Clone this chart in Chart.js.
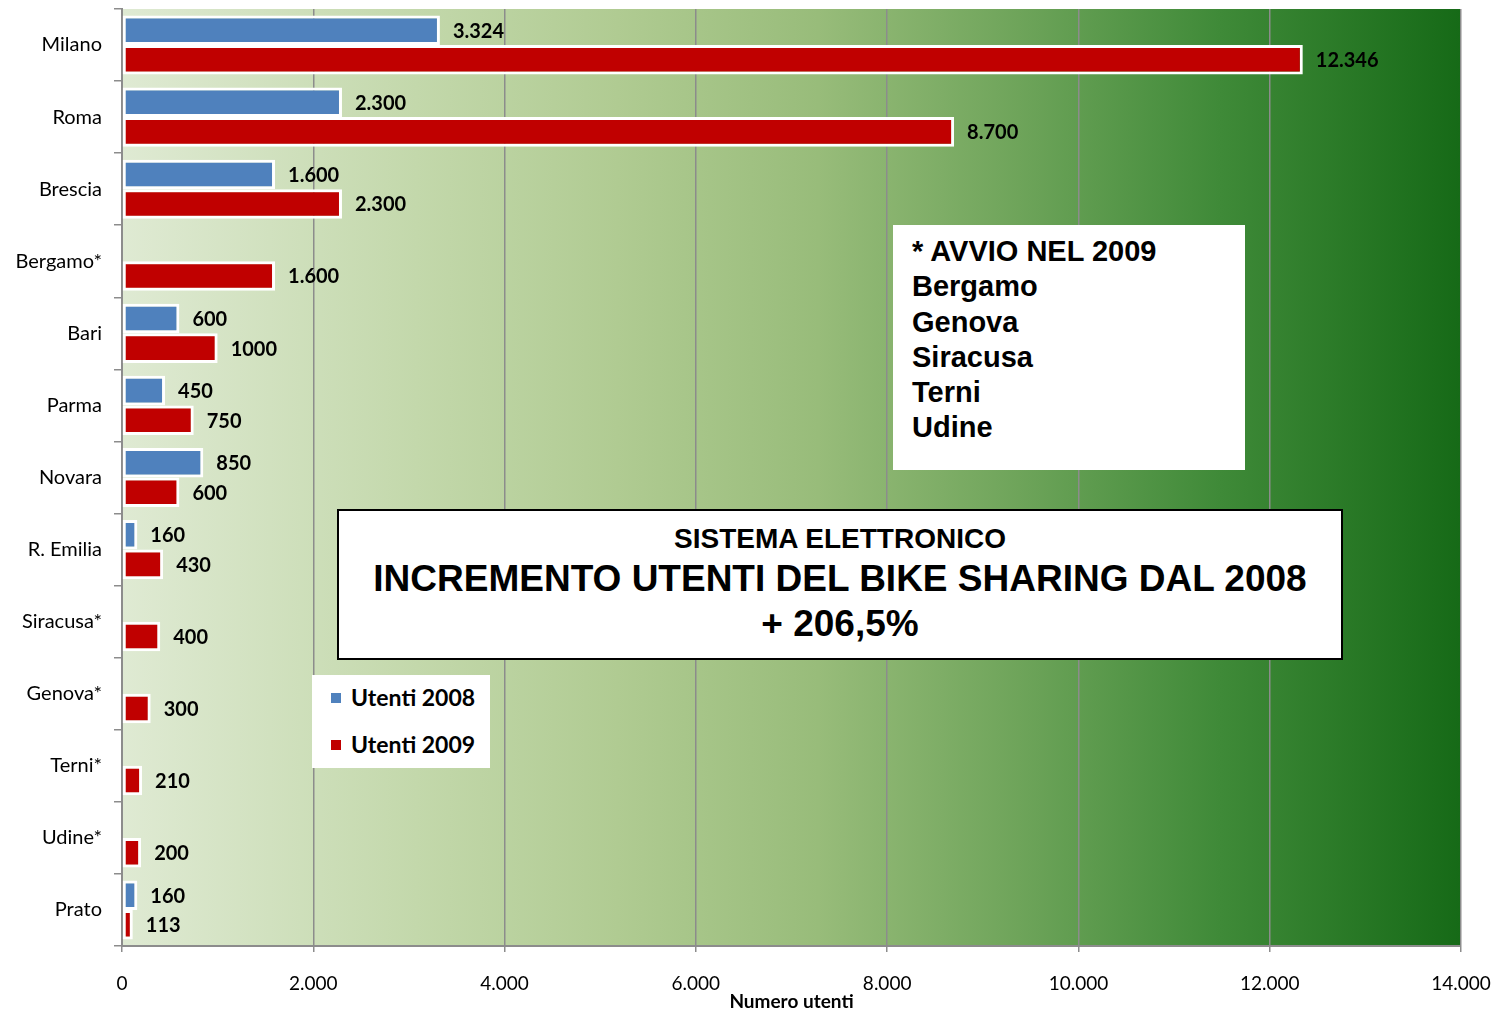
<!DOCTYPE html>
<html>
<head>
<meta charset="utf-8">
<script src="https://cdn.jsdelivr.net/npm/chart.js@4"></script>
<style>
  html, body { margin: 0; padding: 0; background: #fff; overflow: hidden; }
  #wrap { position: relative; width: 1492px; height: 1011px; }
  #chart { display: block; }
  .box { position: absolute; background: #fff; font-family: "Liberation Sans", Arial, sans-serif; font-weight: bold; color: #000; }
  #note { left: 893px; top: 225px; width: 352px; height: 245px; font-size: 29px; line-height: 35.3px; padding: 9px 0 0 19px; box-sizing: border-box; }
  #title { left: 337px; top: 509px; width: 1006px; height: 151px; border: 2px solid #000; box-sizing: border-box; text-align: center; }
  #title .l1 { font-size: 28px; margin-top: 11px; line-height: 34px; }
  #title .l2 { font-size: 37px; line-height: 45px; }
  #legend { left: 312px; top: 675px; width: 178px; height: 93px; font-family: Lato, "Open Sans", sans-serif; font-size: 23px; }
  #legend div { position: absolute; left: 19px; }
  #legend span { display: inline-block; width: 10px; height: 10px; margin-right: 10px; vertical-align: 3px; }
</style>
</head>
<body>
<div id="wrap">
  <canvas id="chart" width="1492" height="1011"></canvas>
  <div class="box" id="note">* AVVIO NEL 2009<br>Bergamo<br>Genova<br>Siracusa<br>Terni<br>Udine</div>
  <div class="box" id="title">
    <div class="l1">SISTEMA ELETTRONICO</div>
    <div class="l2">INCREMENTO UTENTI DEL BIKE SHARING DAL 2008</div>
    <div class="l2">+ 206,5%</div>
  </div>
  <div class="box" id="legend">
    <div style="top:8px"><span style="background:#4f81bd"></span>Utenti 2008</div>
    <div style="top:55px"><span style="background:#c00000"></span>Utenti 2009</div>
  </div>
</div>
<script>
const cities = ["Milano", "Roma", "Brescia", "Bergamo*", "Bari", "Parma", "Novara", "R. Emilia", "Siracusa*", "Genova*", "Terni*", "Udine*", "Prato"];
const users2008 = [3324, 2300, 1600, null, 600, 450, 850, 160, null, null, null, null, 160];
const users2009 = [12346, 8700, 2300, 1600, 1000, 750, 600, 430, 400, 300, 210, 200, 113];
const labels2008 = ["3.324", "2.300", "1.600", "", "600", "450", "850", "160", "", "", "", "", "160"];
const labels2009 = ["12.346", "8.700", "2.300", "1.600", "1000", "750", "600", "430", "400", "300", "210", "200", "113"];
const xTicks = ["0", "2.000", "4.000", "6.000", "8.000", "10.000", "12.000", "14.000"];

const bgPlugin = {
  id: "bgGradient",
  beforeDraw(chart) {
    const { ctx, chartArea: a } = chart;
    const g = ctx.createLinearGradient(a.left, 0, a.right, 0);
    g.addColorStop(0, "#dfead3");
    g.addColorStop(0.22, "#c3d8ab");
    g.addColorStop(0.37, "#b0cb92");
    g.addColorStop(0.52, "#98bc7a");
    g.addColorStop(0.67, "#6ea45a");
    g.addColorStop(0.82, "#3f8a38");
    g.addColorStop(1, "#166a17");
    ctx.save();
    ctx.fillStyle = g;
    ctx.fillRect(a.left, a.top, a.right - a.left, a.bottom - a.top);
    ctx.restore();
  }
};

const labelPlugin = {
  id: "barLabels",
  afterDatasetsDraw(chart) {
    const ctx = chart.ctx;
    const texts = [labels2008, labels2009];
    ctx.save();
    ctx.font = "bold 20px Lato, 'Open Sans', sans-serif";
    ctx.fillStyle = "#000";
    ctx.textBaseline = "middle";
    chart.data.datasets.forEach((ds, i) => {
      chart.getDatasetMeta(i).data.forEach((bar, j) => {
        if (ds.data[j] == null) return;
        ctx.fillText(texts[i][j], bar.x + 13, bar.y + 1);
      });
    });
    ctx.restore();
  }
};

new Chart(document.getElementById("chart"), {
  type: "bar",
  data: {
    labels: cities,
    datasets: [
      {
        label: "Utenti 2008",
        data: users2008,
        backgroundColor: "#4f81bd",
        borderColor: "#ffffff",
        borderWidth: 3,
        borderSkipped: false,
      },
      {
        label: "Utenti 2009",
        data: users2009,
        backgroundColor: "#c00000",
        borderColor: "#ffffff",
        borderWidth: 3,
        borderSkipped: false,
      },
    ],
  },
  options: {
    indexAxis: "y",
    responsive: false,
    animation: false,
    layout: { padding: { top: 9, right: 31 } },
    datasets: { bar: { categoryPercentage: 0.82, barPercentage: 1 } },
    scales: {
      x: {
        min: 0,
        max: 14000,
        ticks: {
          stepSize: 2000,
          color: "#000",
          padding: 20,
          font: { family: "Lato, 'Open Sans', sans-serif", size: 19 },
          callback: (v, i) => xTicks[i],
        },
        grid: { color: "#8c8c8c", lineWidth: 1.5, tickLength: 6 },
        border: { color: "#8c8c8c", width: 2 },
        title: {
          display: true,
          text: "Numero utenti",
          color: "#000",
          padding: 0,
          font: { family: "Lato, 'Open Sans', sans-serif", size: 19, weight: "bold", lineHeight: 1 },
        },
        afterFit(scale) {
          scale.height = 65;
          scale.paddingLeft = 0;
          scale.paddingRight = 0;
        },
      },
      y: {
        ticks: {
          color: "#000",
          padding: 12,
          font: { family: "Lato, 'Open Sans', sans-serif", size: 20 },
        },
        grid: { offset: true, drawOnChartArea: false, color: "#8c8c8c", lineWidth: 1.5, tickLength: 8 },
        border: { color: "#8c8c8c", width: 2 },
        afterFit(scale) {
          scale.width = 122;
          scale.paddingTop = 0;
          scale.paddingBottom = 0;
        },
      },
    },
    plugins: {
      legend: { display: false },
      tooltip: { enabled: false },
    },
  },
  plugins: [bgPlugin, labelPlugin],
});
</script>
</body>
</html>
